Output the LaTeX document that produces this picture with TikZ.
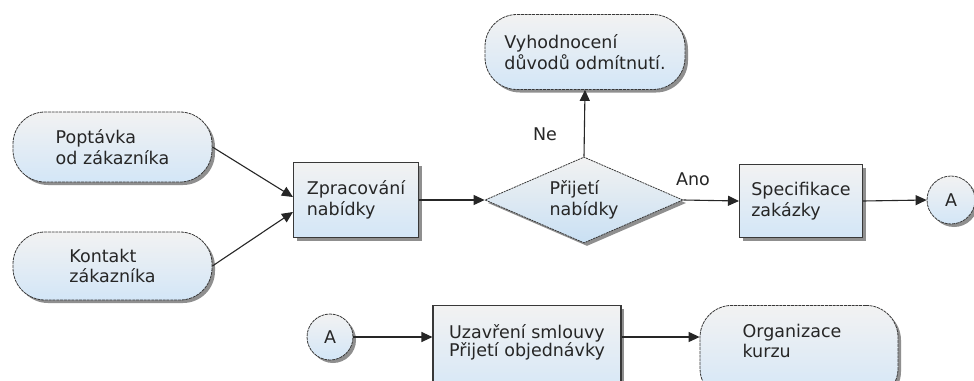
\documentclass[tikz,border=0pt]{standalone}
\usepackage{fontspec}
\setmainfont{DejaVu Sans}
\usetikzlibrary{shapes.geometric,arrows.meta,shadows,calc}
\definecolor{boxtop}{HTML}{F2F2F2}
\definecolor{boxbot}{HTML}{D3E6F7}
\definecolor{diabot}{HTML}{C9E0F3}
\definecolor{edge}{HTML}{383838}
\definecolor{ink}{HTML}{262626}

\begin{document}
\begin{tikzpicture}[x=1pt,y=-1pt,
  txt/.style={font=\fontsize{17.5}{21.5}\selectfont, text=ink, align=left},
  fillgrad/.style={top color=boxtop, bottom color=boxbot},
  shadowed/.style={drop shadow={shadow xshift=3pt, shadow yshift=-3pt, opacity=0.55, fill=black!80}},
  procbox/.style={txt, fillgrad, shadowed, draw=edge, line width=1.1pt, rectangle, inner sep=0pt},
  termbox/.style={txt, fillgrad, shadowed, draw=edge, line width=0.8pt, dash pattern=on 3pt off 0.8pt, rectangle, rounded corners=32pt, inner sep=0pt},
  decision/.style={txt, top color=boxtop, bottom color=diabot, shadowed, draw=edge, line width=0.8pt, dash pattern=on 2pt off 0.8pt, diamond, aspect=2.3, inner sep=0pt},
  connector/.style={txt, fillgrad, shadowed, draw=edge, line width=0.8pt, dash pattern=on 3pt off 0.8pt, circle, inner sep=0pt},
  flow/.style={draw=black!85, line width=1.1pt, -{Triangle[length=11pt,width=10pt]}},
  lbl/.style={font=\fontsize{17.5}{20}\selectfont, text=ink, inner sep=0pt}
]
\path[use as bounding box, fill=white] (0,0) rectangle (974,380);
\clip (0,0) rectangle (974,380);

% input terminals
\node[termbox, minimum width=199, minimum height=70] (pop) at (112.5,147) {Poptávka\\od zákazníka};
\node[termbox, minimum width=199, minimum height=68, font=\fontsize{17.5}{20.5}\selectfont] (kon) at (112.5,266) {Kontakt\\zákazníka};

% main process chain
\node[procbox, minimum width=125, minimum height=75] (zpr) at (356,200) {Zpracování\\nabídky};
\node[decision, minimum width=198, minimum height=86] (dia) at (584,200) {Přijetí\\nabídky};
\node[termbox, minimum width=200, minimum height=75] (vyh) at (585,52) {Vyhodnocení\\důvodů odmítnutí.};
\node[procbox, minimum width=123, minimum height=73] (spe) at (801,201) {Specifikace\\zakázky};
\node[connector, minimum size=48] (a1) at (951,200) {A};

% continuation row
\node[connector, minimum size=46] (a2) at (330,337) {A};
\node[procbox, anchor=north, minimum width=188] (uza) at (527,305)
  {\vbox to 95pt{\baselineskip=18pt\vskip 19pt\hbox{Uzavření smlouvy}\hbox{Přijetí objednávky}\vfill}};
\node[termbox, anchor=north, minimum width=198] (org) at (799,305)
  {\vbox to 95pt{\baselineskip=20pt\vskip 19pt\hbox{Organizace\hskip 14pt}\hbox{kurzu}\vfill}};

% branch labels
\node[lbl] (ne) at (545,134) {Ne};
\node[lbl] (ano) at (693,179) {Ano};

% connectors
\draw[flow] (pop.east) -- ($(zpr.west)+(0,-3)$);
\draw[flow] (kon.east) -- ($(zpr.west)+(0,12)$);
\draw[flow] (zpr.east) -- (dia.west);
\draw[flow] (dia.north) -- (vyh.south);
\draw[flow] (dia.east) -- (spe.west);
\draw[flow] (spe.east) -- (a1.west);
\draw[flow] (a2.east) -- (a2.east -| uza.west);
\draw[flow] (a2.east -| uza.east) -- (a2.east -| org.west);
\end{tikzpicture}
\end{document}
